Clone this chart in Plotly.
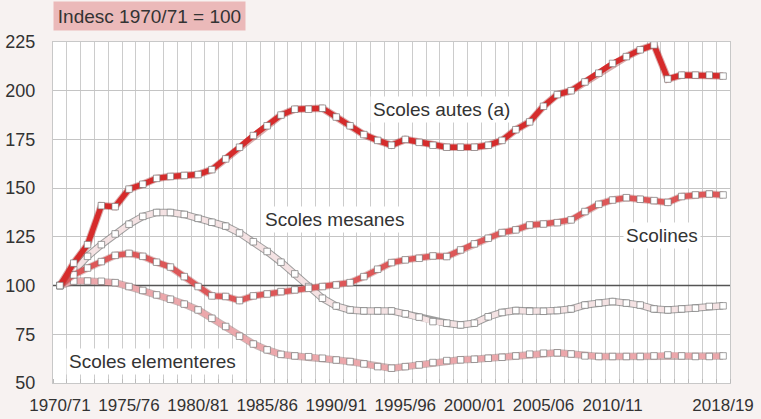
import plotly.graph_objects as go

years = [f"{y}/{(y + 1) % 100:02d}" for y in range(1970, 2019)]

autes = [100, 111.5, 121, 141, 140.5, 149.5, 152, 155, 156, 156.5, 157, 159.5, 165, 171, 177, 182,
         187.5, 190.5, 190.5, 191, 186.5, 182, 177.5, 174.5, 172, 175, 173.5, 172, 171, 171, 171, 172,
         174.5, 180, 184, 192, 198, 200, 204.5, 209, 214, 217.5, 221, 223.5, 206, 208, 208, 208, 207.5]
scolines = [100, 105.5, 109, 112.3, 115.5, 116.5, 115, 112, 109.5, 104.6, 99.5, 94.7, 94.4, 92.3, 94.7,
            95.7, 96.9, 97.8, 98.6, 99.5, 100.3, 101.5, 104.6, 108.4, 111.8, 113.2, 114, 115.2, 114.9,
            118.3, 121.4, 124.3, 127.2, 128.6, 131.1, 131.6, 132.3, 133.7, 138, 141.7, 143.9, 145.1,
            144.3, 143.6, 142.7, 145.7, 146.5, 147, 146.5]
mesanes = [100, 108, 115, 121, 126.5, 131.5, 135.5, 137.5, 137.5, 136.5, 134.5, 132.5, 130.5, 127, 122.5,
           117.5, 112, 106, 99.5, 93.5, 89.5, 87.5, 87, 87, 87, 85.5, 83.8, 81.5, 80.7, 79.8, 80.7, 84,
           86.2, 87.2, 86.8, 86.8, 87.2, 88, 90, 91, 91.8, 91, 90, 88, 87.5, 88, 88.4, 89.3, 89.6]
elementeres = [100, 102.3, 102.3, 102.2, 101.5, 99.5, 97.5, 95.2, 93, 90.5, 87.5, 83.2, 79, 74, 70, 67,
               64.7, 63.9, 63.5, 62.7, 61.8, 61, 59.8, 58.4, 57.6, 58.4, 59.3, 60.5, 61.5, 61.9, 62.2,
               62.7, 63.2, 63.9, 64.8, 65.3, 65.5, 64.9, 63.9, 63.6, 63.6, 63.6, 63.6, 63.9, 64.4, 63.9,
               63.6, 63.6, 63.9]

tick_labels = ["1970/71", "1975/76", "1980/81", "1985/86", "1990/91", "1995/96",
               "2000/01", "2005/06", "2010/11", "2018/19"]
y_ticks = [50, 75, 100, 125, 150, 175, 200, 225]

series_names = ["Scoles autes (a)", "Scolines", "Scoles mesanes", "Scoles elementeres"]
series_data = [autes, scolines, mesanes, elementeres]
series_colors = ["#d62b2b", "#de5758", "#f4e2e3", "#eca7ab"]
outline_colors = ["rgba(150,20,20,0.35)", "rgba(150,50,50,0.3)", "rgba(120,120,120,0.7)",
                  "rgba(150,110,110,0.5)"]

label_pos = {"Scoles autes (a)": (27.6, 190.3), "Scolines": (43.6, 125.5),
             "Scoles mesanes": (19.9, 133.7), "Scoles elementeres": (6.7, 60.8)}

x = list(range(len(years)))
FONT = "Liberation Sans, Arial, sans-serif"
BG = "#f7f2f1"

fig = go.Figure()

fig.add_shape(type="line", xref="x", yref="y", x0=-0.5, x1=len(years) - 0.5, y0=100, y1=100,
              line=dict(color="#555555", width=1.6), layer="between")

order = [3, 2, 1, 0]
for k in order:
    fig.add_trace(go.Scatter(x=x, y=series_data[k], mode="lines", hoverinfo="skip", showlegend=False,
                             line=dict(color=outline_colors[k], width=7.5)))
    fig.add_trace(go.Scatter(x=x, y=series_data[k], mode="lines+markers", name=series_names[k],
                             text=years, showlegend=False,
                             line=dict(color=series_colors[k], width=5.5),
                             marker=dict(symbol="square", size=6.5, color="white",
                                         line=dict(color="rgba(110,110,110,0.8)", width=0.8))))

for name, (lx, ly) in label_pos.items():
    fig.add_annotation(x=lx, y=ly, xref="x", yref="y", text=name, showarrow=False,
                       xanchor="center", yanchor="middle",
                       font=dict(family=FONT, size=19, color="#333333"),
                       bgcolor="white", borderpad=2)

fig.add_annotation(x=0.143, y=1.076, xref="paper", yref="paper", text="Indesc 1970/71 = 100",
                   showarrow=False, xanchor="center", yanchor="middle",
                   font=dict(family=FONT, size=19, color="#333333"),
                   bgcolor="#ebb9b9", borderpad=4, width=183, height=20)

label_idx = [years.index(t) for t in tick_labels]

fig.update_layout(
    width=761, height=419,
    margin=dict(l=53, r=31, t=42, b=36, autoexpand=False),
    paper_bgcolor=BG, plot_bgcolor="white",
    font=dict(family=FONT, color="#333333"),
    xaxis=dict(range=[-0.5, len(years) - 0.5], tickmode="array", tickvals=label_idx,
               ticktext=tick_labels, showgrid=False, zeroline=False, automargin=False,
               tickfont=dict(size=17, color="#333333"), ticks="", ticklabelstandoff=7,
               showline=True, linecolor="#c8c8c8", mirror=True,
               minor=dict(tickmode="linear", tick0=-0.5, dtick=1, showgrid=True,
                          gridcolor="#cccccc", gridwidth=1, ticks="inside", ticklen=4,
                          tickcolor="#bbbbbb")),
    yaxis=dict(range=[50, 225], tickmode="array", tickvals=y_ticks, showgrid=True,
               gridcolor="#c4c4c4", gridwidth=1, zeroline=False, automargin=False,
               tickfont=dict(size=18, color="#333333"), ticklabelstandoff=13,
               showline=True, linecolor="#c8c8c8", mirror=True),
)

fig.write_html("out.html", config={"displayModeBar": False},
               post_script="document.body.style.margin='0';document.body.style.background='%s';" % BG)
